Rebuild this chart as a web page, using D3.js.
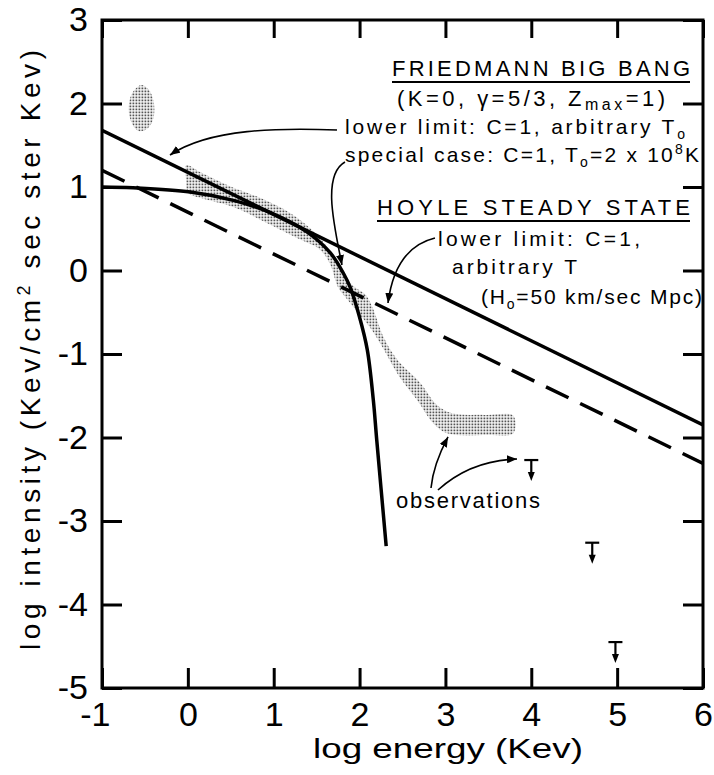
<!DOCTYPE html>
<html><head><meta charset="utf-8">
<script src="https://cdn.jsdelivr.net/npm/d3@7"></script>
<style>body{margin:0;background:#fff}svg{display:block}</style>
</head><body><svg id="c" width="714" height="775"></svg>
<script>
// ---- data ----
const xTicks = [-1,0,1,2,3,4,5,6];
const xTickLabels = ["-1","0","1","2","3","4","5","6"];
const yTicks = [-5,-4,-3,-2,-1,0,1,2,3];
const yTickLabels = ["-5","-4","-3","-2","-1","0","1","2","3"];

const friedmannLowerLimit = [[-1,1.68],[6,-1.85]];
const friedmannSpecialCase = [[-1,1.0],[-0.64,0.99],[0.03,0.94],[0.53,0.84],[0.92,0.71],[1.39,0.46],[1.66,0.21],[1.81,-0.03],[1.89,-0.20],[2.0,-0.56],[2.09,-0.95],[2.16,-1.55],[2.2,-2.03],[2.31,-3.30]];
const hoyleLowerLimit = [[-1,1.2],[6,-2.31]];

const observationBand = [[-0.02,1.26],[0.14,1.18],[0.49,1.01],[0.84,0.87],[1.19,0.69],[1.42,0.51],[1.60,0.31],[1.75,0.07],[1.91,-0.17],[2.07,-0.29],[2.15,-0.44],[2.28,-0.80],[2.44,-1.07],[2.71,-1.35],[2.90,-1.61],[3.08,-1.71],[3.46,-1.73],[3.79,-1.74],[3.79,-1.95],[3.49,-1.97],[3.02,-1.95],[2.86,-1.83],[2.67,-1.55],[2.47,-1.28],[2.24,-0.87],[2.12,-0.68],[1.98,-0.50],[1.86,-0.35],[1.75,-0.20],[1.66,0.07],[1.54,0.25],[1.31,0.37],[0.92,0.57],[0.53,0.76],[0.14,0.87],[0.0,0.93],[-0.02,1.08]];
const observationBlob = [[-0.55,2.22],[-0.46,2.17],[-0.40,2.03],[-0.40,1.83],[-0.47,1.70],[-0.57,1.67],[-0.65,1.76],[-0.69,1.94],[-0.65,2.12]];
const upperLimits = [[4.0,-2.27],[4.71,-3.26],[4.98,-4.45]];

// annotation arrows: start, control1, control2, tip (data coords)
const arrows = [
  [[1.737,1.683],[1.073,1.707],[0.258,1.707],[-0.208,1.383]],
  [[1.830,1.299],[1.562,1.144],[1.702,0.545],[1.795,0.066]],
  [[2.878,0.389],[2.587,0.317],[2.389,0.066],[2.331,-0.389]],
  [[2.832,-2.605],[2.855,-2.365],[2.937,-2.174],[3.030,-1.994]],
  [[2.913,-2.629],[3.170,-2.389],[3.461,-2.269],[3.834,-2.257]]
];

// ---- drawing ----
const FONT = "'Liberation Sans', Arial, sans-serif";
const svg = d3.select("#c");
const L=102, R=703, T=20, B=688;
const x = d3.scaleLinear().domain([-1,6]).range([L,R]);
const y = d3.scaleLinear().domain([-5,3]).range([B,T]);

const defs = svg.append("defs");
const pat = defs.append("pattern").attr("id","stip").attr("patternUnits","userSpaceOnUse")
  .attr("width",3).attr("height",3);
pat.append("rect").attr("width",3).attr("height",3).attr("fill","#fff");
pat.append("rect").attr("x",0.5).attr("y",0.5).attr("width",1.8).attr("height",1.8).attr("fill","#555");
defs.append("clipPath").attr("id","plot").append("rect")
  .attr("x",L).attr("y",T).attr("width",R-L).attr("height",B-T);
defs.append("marker").attr("id","ah").attr("viewBox","0 0 10 8").attr("refX",10).attr("refY",4)
  .attr("markerWidth",10).attr("markerHeight",8).attr("markerUnits","userSpaceOnUse")
  .attr("orient","auto").append("path").attr("d","M0,0L10,4L0,8Z").attr("fill","#000");

const g = svg.append("g").attr("clip-path","url(#plot)");
const smoothPoly = d3.line().x(d=>x(d[0])).y(d=>y(d[1])).curve(d3.curveCatmullRomClosed.alpha(0.5));

g.append("path").attr("d",smoothPoly(observationBand)).attr("fill","url(#stip)");
g.append("path").attr("d",smoothPoly(observationBlob)).attr("fill","url(#stip)");

const line = d3.line().x(d=>x(d[0])).y(d=>y(d[1]));
g.append("path").attr("d",line(hoyleLowerLimit)).attr("fill","none").attr("stroke","#000")
  .attr("stroke-width",3.5).attr("stroke-dasharray","25,13");
g.append("path").attr("d",line(friedmannLowerLimit)).attr("fill","none").attr("stroke","#000").attr("stroke-width",3.5);
g.append("path").attr("d",line.curve(d3.curveCatmullRom.alpha(0.5))(friedmannSpecialCase))
  .attr("fill","none").attr("stroke","#000").attr("stroke-width",3.5);

// upper limits
upperLimits.forEach(([ux,uy])=>{
  const px=x(ux), py=y(uy);
  svg.append("line").attr("x1",px-7).attr("x2",px+7).attr("y1",py).attr("y2",py).attr("stroke","#000").attr("stroke-width",2.2);
  svg.append("line").attr("x1",px).attr("x2",px).attr("y1",py).attr("y2",py+14).attr("stroke","#000").attr("stroke-width",2.2);
  svg.append("path").attr("d",`M${px-3.5},${py+12}L${px+3.5},${py+12}L${px},${py+21}Z`).attr("fill","#000");
});

// arrows
arrows.forEach(a=>{
  const p=a.map(d=>[x(d[0]),y(d[1])]);
  svg.append("path").attr("d",`M${p[0]}C${p[1]} ${p[2]} ${p[3]}`).attr("fill","none")
    .attr("stroke","#000").attr("stroke-width",1.6).attr("marker-end","url(#ah)");
});

// axes
function styleAxis(sel){
  sel.select(".domain").remove();
  sel.selectAll(".tick line").attr("stroke","#000").attr("stroke-width",3);
  sel.selectAll("text").attr("font-family",FONT).attr("font-size",34).attr("fill","#000");
}
const xAxis = svg.append("g").attr("transform",`translate(0,${B})`)
  .call(d3.axisBottom(x).tickValues(xTicks).tickSizeInner(-20).tickSizeOuter(0).tickPadding(14)
    .tickFormat((d,i)=>xTickLabels[i]));
styleAxis(xAxis);
xAxis.selectAll(".tick text").attr("text-anchor",(d,i)=>xTickLabels[i].startsWith("-")?"end":"middle")
  .attr("dx",(d,i)=>xTickLabels[i].startsWith("-")?8:0);
const yAxis = svg.append("g").attr("transform",`translate(${L},0)`)
  .call(d3.axisLeft(y).tickValues(yTicks).tickSizeInner(-20).tickSizeOuter(0).tickPadding(14)
    .tickFormat((d,i)=>yTickLabels[i]));
styleAxis(yAxis);
const topAxis = svg.append("g").attr("transform",`translate(0,${T})`)
  .call(d3.axisTop(x).tickValues(xTicks).tickSizeInner(-18).tickSizeOuter(0).tickFormat(""));
styleAxis(topAxis);
const rightAxis = svg.append("g").attr("transform",`translate(${R},0)`)
  .call(d3.axisRight(y).tickValues(yTicks).tickSizeInner(-20).tickSizeOuter(0).tickFormat(""));
styleAxis(rightAxis);
svg.append("rect").attr("x",L).attr("y",T).attr("width",R-L).attr("height",B-T)
  .attr("fill","none").attr("stroke","#000").attr("stroke-width",3);

// axis titles
svg.append("text").attr("x",448).attr("y",758).attr("text-anchor","middle")
  .attr("font-family",FONT).attr("font-size",28).attr("textLength",270).attr("lengthAdjust","spacingAndGlyphs")
  .text("log energy (Kev)");
const yl = svg.append("text").attr("transform","translate(40,350) rotate(-90)").attr("text-anchor","middle")
  .attr("font-family",FONT).attr("font-size",28).attr("textLength",600).attr("lengthAdjust","spacing");
yl.append("tspan").text("log intensity (Kev/cm");
yl.append("tspan").attr("dy",-10).attr("font-size",18).text("2");
yl.append("tspan").attr("dy",10).text(" sec ster Kev)");

// annotation text
function txt(xp,yp,len,size){
  return svg.append("text").attr("x",xp).attr("y",yp).attr("font-family",FONT).attr("font-size",size)
    .attr("textLength",len).attr("lengthAdjust","spacing");
}
txt(392,76,298,22).text("FRIEDMANN BIG BANG");
svg.append("line").attr("x1",392).attr("x2",690).attr("y1",82).attr("y2",82).attr("stroke","#000").attr("stroke-width",2);
let t = txt(397,106,268,22);
t.append("tspan").text("(K=0, γ=5/3, Z");
t.append("tspan").attr("dy",4).attr("font-size",16).text("max");
t.append("tspan").attr("dy",-4).text("=1)");
t = txt(345,134,340,21);
t.append("tspan").text("lower limit: C=1, arbitrary T");
t.append("tspan").attr("dy",5).attr("font-size",14).text("o");
t = txt(345,162,354,21);
t.append("tspan").text("special case: C=1, T");
t.append("tspan").attr("dy",5).attr("font-size",14).text("o");
t.append("tspan").attr("dy",-5).text("=2 x 10");
t.append("tspan").attr("dy",-8).attr("font-size",14).text("8");
t.append("tspan").attr("dy",8).text("K");
txt(377,215,313,22).text("HOYLE STEADY STATE");
svg.append("line").attr("x1",377).attr("x2",690).attr("y1",221).attr("y2",221).attr("stroke","#000").attr("stroke-width",2);
txt(438,246,202,21).text("lower limit: C=1,");
txt(452,274,125,21).text("arbitrary T");
t = txt(481,304,221,21);
t.append("tspan").text("(H");
t.append("tspan").attr("dy",5).attr("font-size",14).text("o");
t.append("tspan").attr("dy",-5).text("=50 km/sec Mpc)");
txt(396,508,144,22).text("observations");
</script></body></html>
